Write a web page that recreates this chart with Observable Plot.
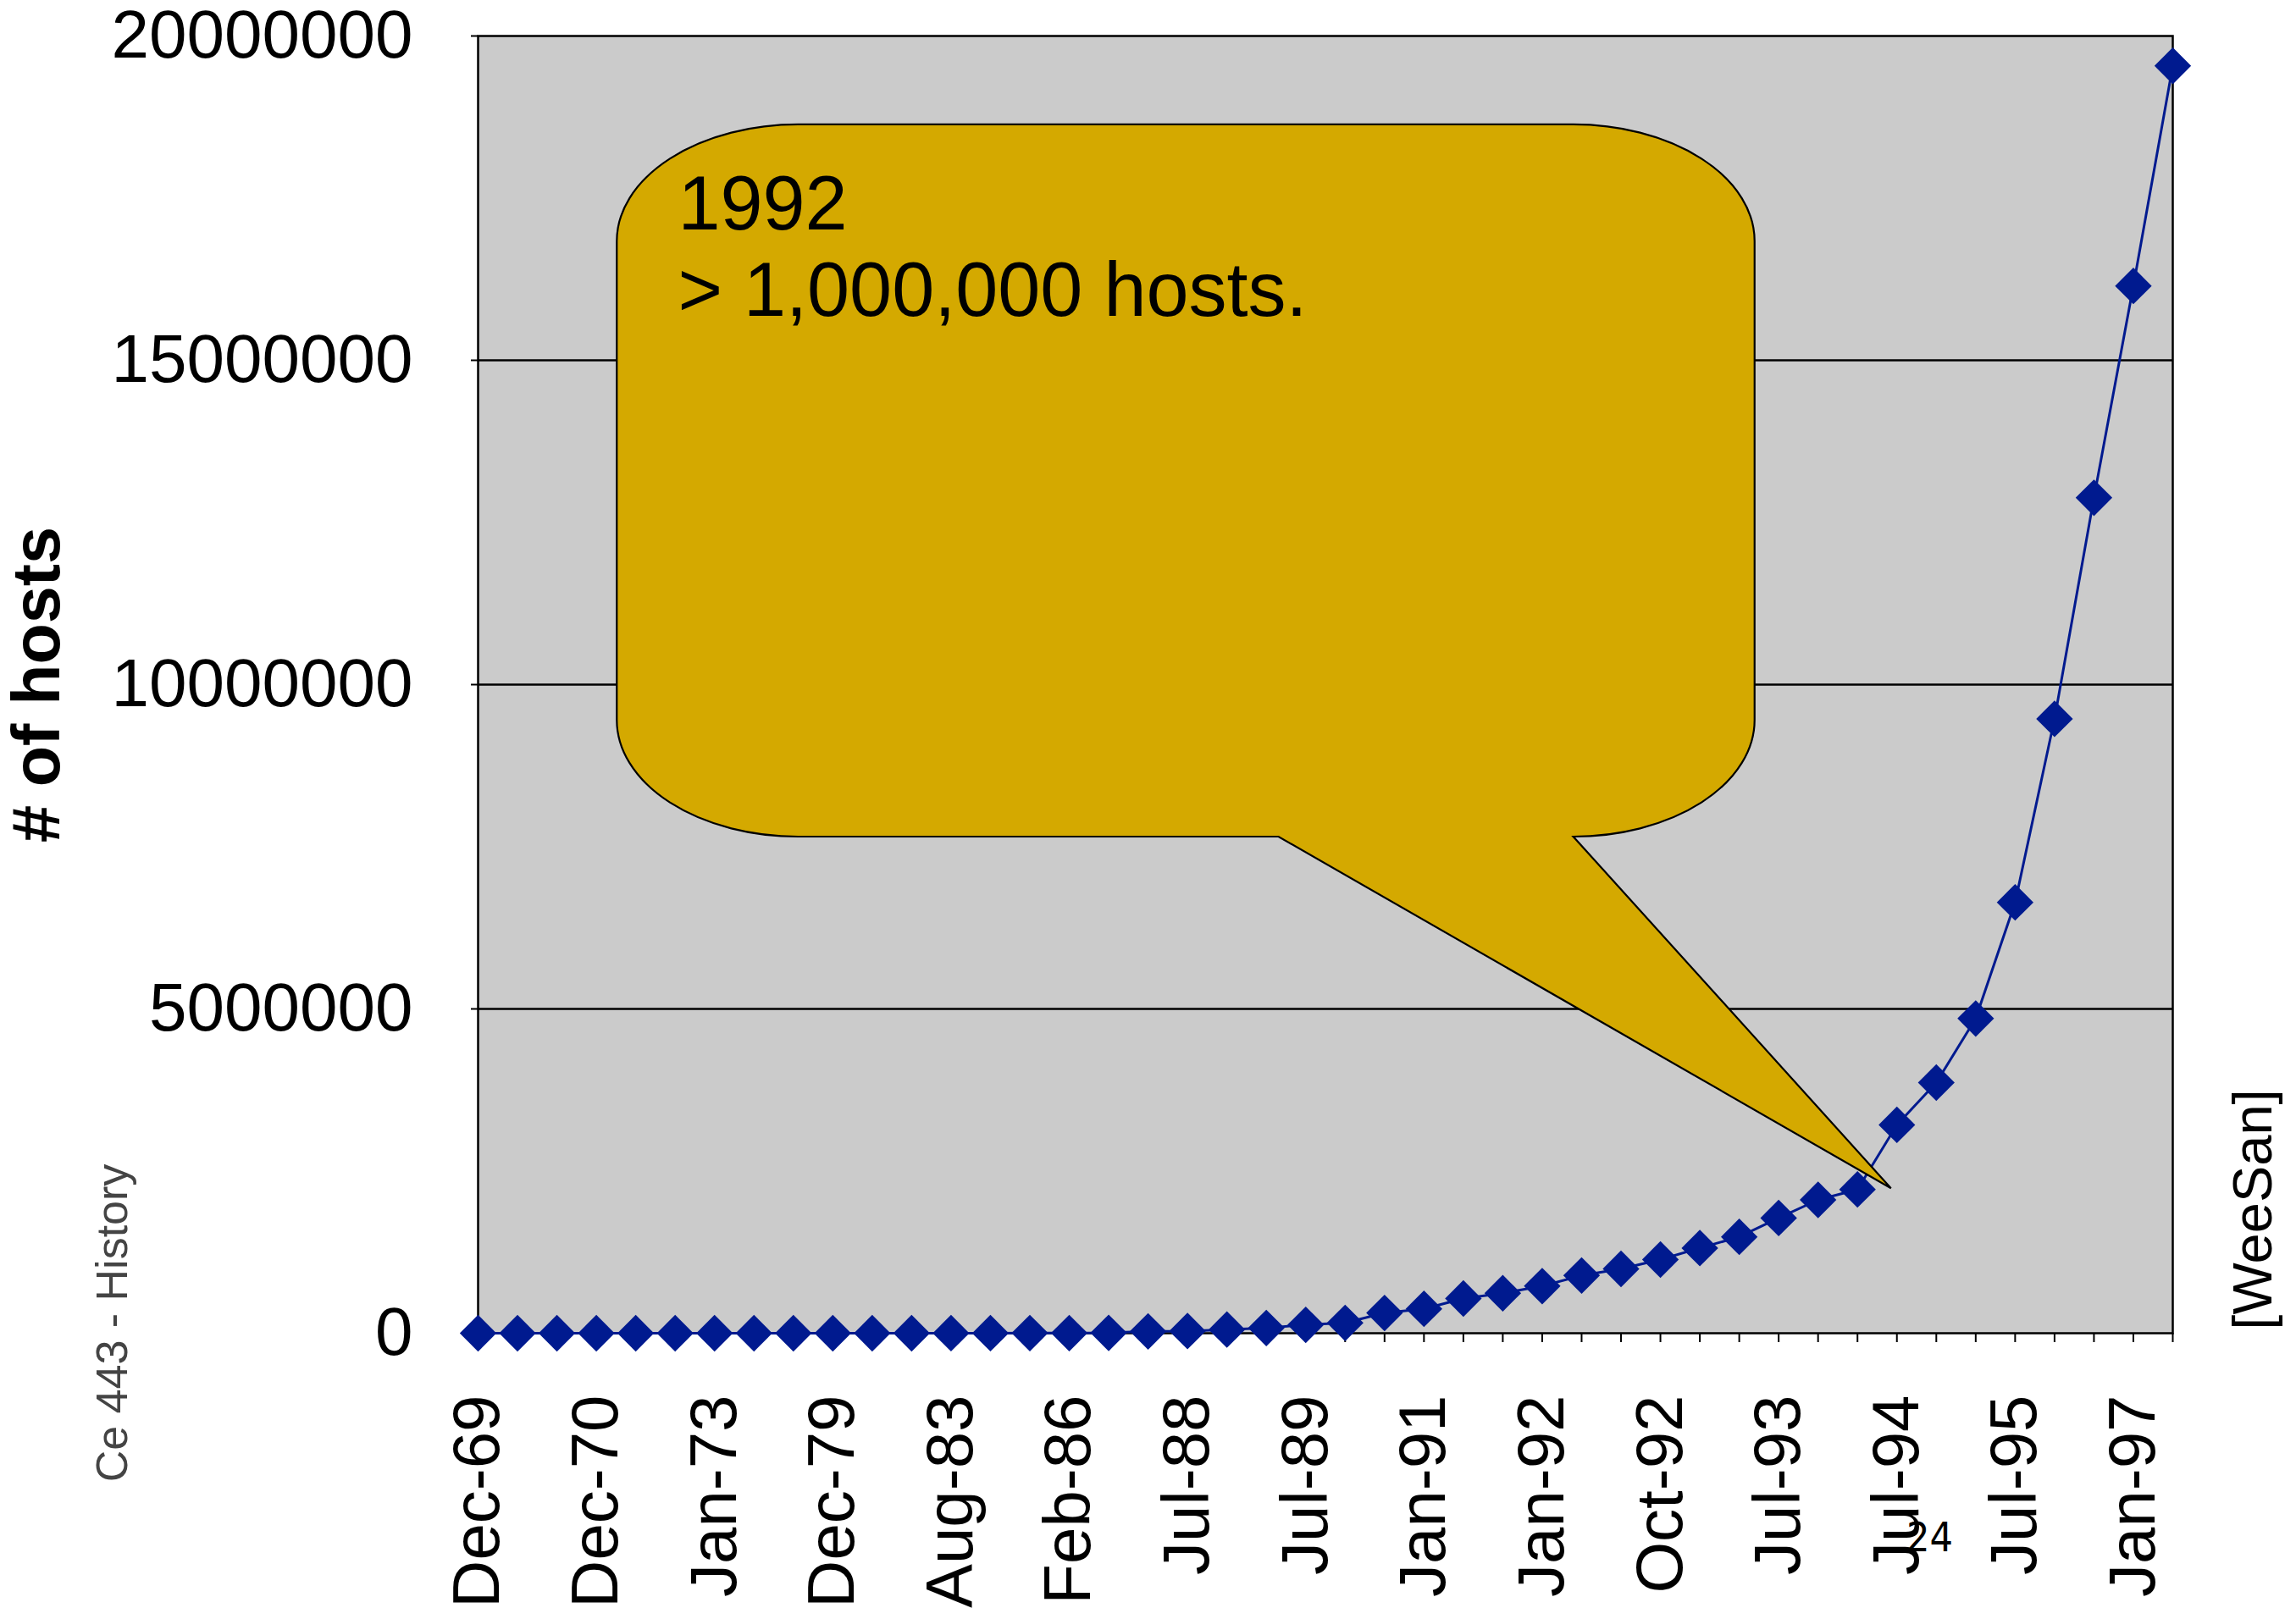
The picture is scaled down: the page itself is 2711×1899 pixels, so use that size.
<!DOCTYPE html>
<html>
<head>
<meta charset="utf-8">
<script src="https://cdn.jsdelivr.net/npm/d3@7"></script>
<script src="https://cdn.jsdelivr.net/npm/@observablehq/plot@0.6"></script>
<style>
  html, body { margin: 0; padding: 0; background: #ffffff; }
  #chart svg { display: block; }
</style>
</head>
<body>
<div id="chart"></div>
<script>
// ---- data ----
const months = [
  "Dec-69","Jun-70","Oct-70","Dec-70","Apr-71","Oct-72","Jan-73","Jun-74","Mar-77","Dec-79",
  "Aug-81","May-82","Aug-83","Oct-84","Oct-85","Feb-86","Nov-86","Dec-87","Jul-88","Oct-88",
  "Jan-89","Jul-89","Oct-89","Oct-90","Jan-91","Jul-91","Oct-91","Jan-92","Apr-92","Jul-92",
  "Oct-92","Jan-93","Apr-93","Jul-93","Oct-93","Jan-94","Jul-94","Oct-94","Jan-95","Jul-95",
  "Jan-96","Jul-96","Jan-97","Jul-97"
];
const hosts = [
  4, 9, 11, 13, 23, 31, 35, 62, 111, 188,
  213, 235, 562, 1024, 1961, 2308, 5089, 28174, 33000, 56000,
  80000, 130000, 159000, 313000, 376000, 535000, 617000, 727000, 890000, 992000,
  1136000, 1313000, 1486000, 1776000, 2056000, 2217000, 3212000, 3864000, 4852000, 6642000,
  9472000, 12881000, 16146000, 19540000
];
const yTicks = [0, 5000000, 10000000, 15000000, 20000000];
const labelledMonths = ["Dec-69","Dec-70","Jan-73","Dec-79","Aug-83","Feb-86","Jul-88","Jul-89",
  "Jan-91","Jan-92","Oct-92","Jul-93","Jul-94","Jul-95","Jan-97"];
const yTitle = "# of hosts";
const calloutText = ["1992", "> 1,000,000 hosts."];
const footerLeft = "Ce 443 - History";
const footerRight = "[WeeSan]";
const pageNumber = "24";

// ---- build ----
const data = months.map((m, i) => ({i, m, v: hosts[i]}));
const labelIdx = labelledMonths.map(m => months.indexOf(m));

// callout geometry, in data units (x: category index, y: hosts)
const callout = {
  x0: 3.53, x1: 32.40, yTop: 18630000, yBottom: 7650000,
  rx: 4.6, ry: 1800000,
  tailLeft: 20.32, tipX: 35.86, tipY: 2230000,
  textX: 5.07, textY: 17960000
};

const FONT = "'Liberation Sans', Arial, Helvetica, sans-serif";
const BLUE = "#001a8f";

function calloutMark(index, scales) {
  const x = scales.x, y = scales.y;
  const X0 = x(callout.x0), X1 = x(callout.x1);
  const Y0 = y(callout.yTop), Y1 = y(callout.yBottom);
  const rx = x(callout.x0 + callout.rx) - X0;
  const ry = y(callout.yTop - callout.ry) - Y0;
  const TL = x(callout.tailLeft);
  const TX = x(callout.tipX), TY = y(callout.tipY);
  const d = [
    `M${X0},${Y0 + ry}`,
    `A${rx},${ry} 0 0 1 ${X0 + rx},${Y0}`,
    `L${X1 - rx},${Y0}`,
    `A${rx},${ry} 0 0 1 ${X1},${Y0 + ry}`,
    `L${X1},${Y1 - ry}`,
    `A${rx},${ry} 0 0 1 ${X1 - rx},${Y1}`,
    `L${TX},${TY}`,
    `L${TL},${Y1}`,
    `L${X0 + rx},${Y1}`,
    `A${rx},${ry} 0 0 1 ${X0},${Y1 - ry}`,
    "Z"
  ].join("");
  const g = d3.create("svg:g");
  g.append("path")
    .attr("d", d)
    .attr("fill", "#d4a900")
    .attr("stroke", "#000")
    .attr("stroke-width", 2.2)
    .attr("stroke-linejoin", "miter");
  return g.node();
}

const chart = Plot.plot({
  width: 2711,
  height: 1899,
  marginLeft: 564,
  marginRight: 146,
  marginTop: 42,
  marginBottom: 325,
  style: {fontFamily: FONT, color: "#000", background: "#fff", overflow: "visible"},
  x: {domain: [0, months.length - 1]},
  y: {domain: [0, 20000000]},
  marks: [
    Plot.frame({fill: "#cbcbcb", stroke: null}),
    Plot.ruleY(yTicks.slice(1, -1), {stroke: "#000", strokeWidth: 2.5}),
    Plot.frame({stroke: "#000", strokeWidth: 2.5}),
    Plot.axisY({ticks: yTicks, tickFormat: d3.format("d"), tickSize: 8, tickPadding: 69,
      fontSize: 80, label: null, stroke: "#000", strokeWidth: 2}),
    Plot.axisX({ticks: d3.range(months.length), tickSize: 11, tickFormat: () => "",
      label: null, stroke: "#000", strokeWidth: 2}),
    Plot.axisX({ticks: labelIdx, tickSize: 0, tickPadding: 73, tickRotate: -90,
      tickFormat: i => months[i], fontSize: 78, label: null}),
    Plot.line(data, {x: "i", y: "v", stroke: BLUE, strokeWidth: 3}),
    Plot.dot(data, {x: "i", y: "v", symbol: "diamond2", r: 19.5, fill: BLUE, stroke: null}),
    calloutMark,
    Plot.text([calloutText.join("\n")], {
      x: () => callout.textX, y: () => callout.textY, text: d => d,
      textAnchor: "start", lineAnchor: "top", lineHeight: 1.133,
      fontSize: 90, fill: "#000"
    }),
    Plot.text([yTitle], {frameAnchor: "left", text: d => d, rotate: -90, dx: -520,
      fontSize: 79, fontWeight: "bold", textAnchor: "middle", fill: "#000"}),
    Plot.text([footerLeft], {frameAnchor: "bottom-left", text: d => d, rotate: -90,
      dx: -415, dy: -12, fontSize: 52, textAnchor: "middle", fill: "#444"}),
    Plot.text([footerRight], {frameAnchor: "bottom-right", text: d => d, rotate: -90,
      dx: 116, dy: -146, fontSize: 65, textAnchor: "middle", fill: "#000"}),
    Plot.text([pageNumber], {frameAnchor: "bottom-right", text: d => d,
      dx: -287, dy: 257, fontSize: 48, textAnchor: "middle",
      fontFamily: "'Liberation Sans Narrow', 'DejaVu Sans Condensed', sans-serif", fill: "#000"})
  ]
});
document.getElementById("chart").append(chart);
</script>
</body>
</html>
